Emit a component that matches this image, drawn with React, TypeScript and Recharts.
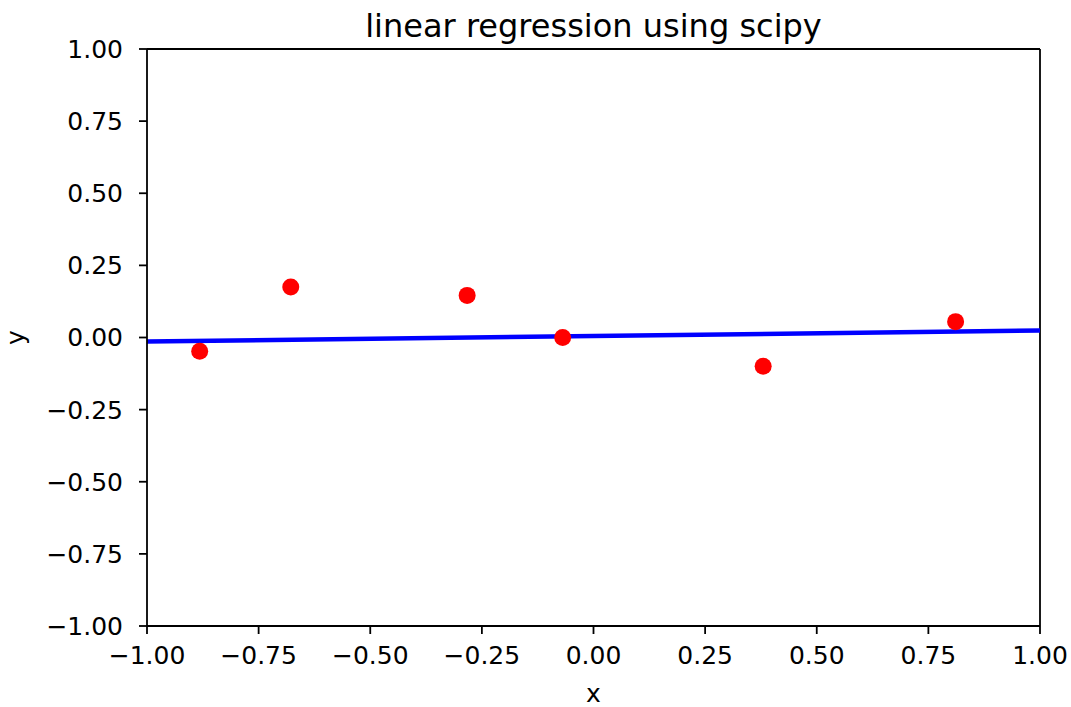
import React from 'react';
import {
  ComposedChart,
  Scatter,
  Line,
  XAxis,
  YAxis,
  Label,
  ReferenceLine,
} from 'recharts';

// Sample observations
const sampleX = [-0.882, -0.678, -0.283, -0.069, 0.38, 0.811];
const sampleY = [-0.048, 0.175, 0.146, 0.0, -0.1, 0.055];

// Fitted regression line, evaluated at the ends of the x range
const fitX = [-1, 1];
const fitY = [-0.014, 0.024];

// Axis ticks
const xTicks = [-1, -0.75, -0.5, -0.25, 0, 0.25, 0.5, 0.75, 1];
const yTicks = [-1, -0.75, -0.5, -0.25, 0, 0.25, 0.5, 0.75, 1];

const title = 'linear regression using scipy';

const points = sampleX.map((x, i) => ({ x, y: sampleY[i] }));
const fitLine = fitX.map((x, i) => ({ x, y: fitY[i] }));

const FONT = '"DejaVu Sans", sans-serif';
const INK = '#000000';
const SPINE = 1.8;
const TICK_FONT = 25;

const fmt = (v: number) => v.toFixed(2).replace('-', '\u2212');

const tickStyle = { fontFamily: FONT, fontSize: TICK_FONT, fill: INK };

const Dot = (props: any) => (
  <circle cx={props.cx} cy={props.cy} r={8.5} fill="#ff0000" />
);

const YLabel = (props: any) => {
  const vb = props.viewBox || { x: 0, y: 0, width: 0, height: 0 };
  const cx = vb.x + 24;
  const cy = vb.y + vb.height / 2;
  return (
    <text
      x={cx}
      y={cy}
      transform={`rotate(-90, ${cx}, ${cy})`}
      textAnchor="middle"
      fontFamily={FONT}
      fontSize={TICK_FONT}
      fill={INK}
    >
      y
    </text>
  );
};

export default function App() {
  return (
    <div style={{ position: 'absolute', left: 0, top: 0, background: '#fff' }}>
      <ComposedChart
        width={1071}
        height={707}
        margin={{ top: 49, right: 31, bottom: 0, left: 0 }}
      >
        <XAxis
          dataKey="x"
          type="number"
          domain={[-1, 1]}
          ticks={xTicks}
          tickFormatter={fmt}
          allowDataOverflow
          height={81}
          tickSize={8}
          tickMargin={12}
          tick={tickStyle}
          axisLine={{ stroke: INK, strokeWidth: SPINE }}
          tickLine={{ stroke: INK, strokeWidth: SPINE }}
          interval={0}
        >
          <Label
            value="x"
            position="insideBottom"
            offset={5}
            style={{ fontFamily: FONT, fontSize: TICK_FONT, fill: INK }}
          />
        </XAxis>
        <YAxis
          dataKey="y"
          type="number"
          domain={[-1, 1]}
          ticks={yTicks}
          tickFormatter={fmt}
          allowDataOverflow
          width={147}
          tickSize={8}
          tickMargin={16}
          tick={tickStyle}
          axisLine={{ stroke: INK, strokeWidth: SPINE }}
          tickLine={{ stroke: INK, strokeWidth: SPINE }}
          interval={0}
        >
          <Label content={<YLabel />} />
        </YAxis>
        {/* top and right frame edges */}
        <ReferenceLine y={1} stroke={INK} strokeWidth={SPINE}>
          <Label
            value={title}
            position="top"
            offset={12}
            style={{ fontFamily: FONT, fontSize: 32, fill: INK }}
          />
        </ReferenceLine>
        <ReferenceLine x={1} stroke={INK} strokeWidth={SPINE} />
        <Scatter
          data={points}
          dataKey="y"
          shape={<Dot />}
          isAnimationActive={false}
        />
        <Line
          data={fitLine}
          dataKey="y"
          type="linear"
          stroke="#0000ff"
          strokeWidth={4.5}
          dot={false}
          activeDot={false}
          isAnimationActive={false}
        />
      </ComposedChart>
    </div>
  );
}
